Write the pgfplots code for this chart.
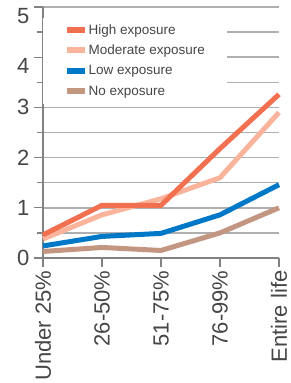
\documentclass[border=0pt]{standalone}
\usepackage{fontspec}
\setmainfont{Liberation Sans}
\usepackage{pgfplots}
\pgfplotsset{compat=1.18}
\definecolor{cHigh}{RGB}{240,112,80}
\definecolor{cMod}{RGB}{250,180,155}
\definecolor{cLow}{RGB}{0,120,200}
\definecolor{cNo}{RGB}{195,150,130}
\definecolor{gridc}{RGB}{175,175,175}
\definecolor{axc}{RGB}{130,130,130}
\definecolor{txt}{RGB}{70,70,70}
\begin{document}
\begin{tikzpicture}
\path[use as bounding box] (-43pt,-125pt) rectangle (248pt,258pt);
\begin{axis}[
  at={(0pt,0pt)}, anchor=south west,
  scale only axis, width=236pt, height=251pt,
  xmin=0, xmax=4, ymin=0, ymax=5,
  axis x line*=bottom, axis y line*=left,
  axis line style={draw=axc, line width=1.2pt},
  xtick={0,1,2,3,4},
  xticklabels={Under 25\%,26-50\%,51-75\%,76-99\%,Entire life},
  ytick={0,1,2,3,4,5},
  yticklabels={0,1,2,3,,},
  extra y ticks={3.835,4.82},
  extra y tick labels={4,5},
  extra y tick style={grid=none, tick style={draw=none}},
  minor ytick={0.5,1.5,2.5,3.5,4.5},
  ymajorgrids, yminorgrids,
  major grid style={draw=gridc, line width=1.4pt},
  minor grid style={draw=gridc, line width=1.4pt},
  tick align=outside,
  major tick length=9pt, minor tick length=6pt,
  tick style={draw=axc, line width=1.2pt},
  /pgf/number format/assume math mode=true,
  ticklabel style={font=\fontsize{22}{22}\selectfont, text=txt},
  y tick label style={xshift=-1pt},
  x tick label style={rotate=90, anchor=east},
  clip=false,
  reverse legend,
  legend cell align=left,
  legend image code/.code={\draw[#1, line width=6pt] (0pt,0pt) -- (18pt,0pt);},
  legend style={at={(0,1)}, anchor=north west, yshift=-10.5pt,
    fill=white, draw=none, inner xsep=21pt, inner ysep=2pt,
    font=\fontsize{13.5}{13.5}\selectfont, text=txt, row sep=0pt,
    nodes={inner xsep=0.5pt, inner ysep=0pt, minimum height=20.5pt}},
  every axis plot/.append style={line width=5pt, no marks},
]
\addplot[cNo] coordinates {(0,0.13) (1,0.21) (2,0.15) (3,0.5) (4,1.0)};
\addlegendentry{No exposure}
\addplot[cLow] coordinates {(0,0.24) (1,0.43) (2,0.49) (3,0.86) (4,1.46)};
\addlegendentry{Low exposure}
\addplot[cMod] coordinates {(0,0.38) (1,0.86) (2,1.18) (3,1.6) (4,2.9)};
\addlegendentry{Moderate exposure}
\addplot[cHigh] coordinates {(0,0.46) (1,1.05) (2,1.05) (3,2.18) (4,3.26)};
\addlegendentry{High exposure}
\end{axis}
\end{tikzpicture}
\end{document}
